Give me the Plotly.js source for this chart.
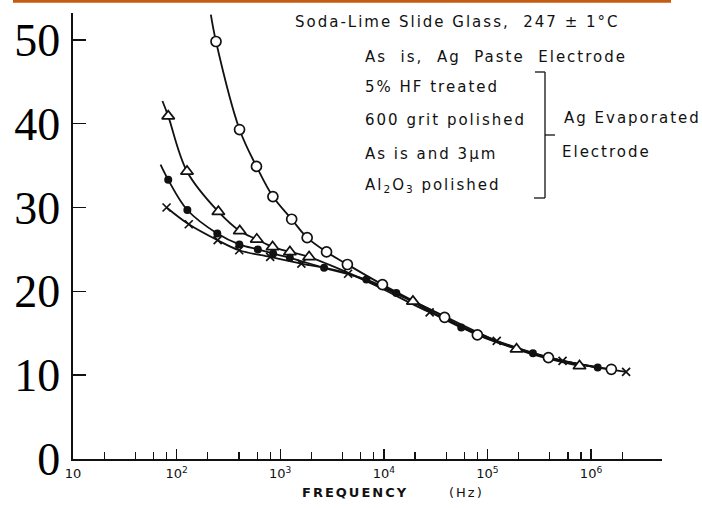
<!DOCTYPE html>
<html><head><meta charset="utf-8">
<script src="https://cdn.plot.ly/plotly-3.0.1.min.js"></script>
<style>
html,body{margin:0;padding:0;background:#fff;}
.annotation-text{letter-spacing:2px;}
</style></head>
<body><div id="chart" style="width:702px;height:508px;"></div>
<script>
// ---- data (frequency in Hz, value) ----
// As is, Ag paste electrode (open circles)
const pasteFreq = [240, 405, 590, 850, 1290, 1820, 2800, 4450, 9700, 38600, 80000, 388000, 1570000];
const pasteVal  = [49.8, 39.3, 34.9, 31.3, 28.6, 26.4, 24.7, 23.2, 20.8, 16.9, 14.8, 12.1, 10.7];
const pasteLineStartFreq = 214, pasteLineStartVal = 53.0;

// 5% HF treated (open triangles)
const hfFreq = [83, 126, 253, 407, 594, 844, 1240, 1900, 19100, 191000, 774000];
const hfVal  = [40.9, 34.3, 29.5, 27.2, 26.2, 25.3, 24.7, 24.1, 18.8, 13.1, 11.1];
const hfLineStartFreq = 73, hfLineStartVal = 42.7;

// 600 grit polished (filled circles)
const gritFreq = [83, 127, 247, 403, 608, 855, 1240, 2650, 6790, 13200, 55900, 275000, 1160000];
const gritVal  = [33.3, 29.7, 26.9, 25.6, 25.0, 24.5, 24.0, 22.8, 21.4, 19.8, 15.7, 12.6, 10.9];
const gritLineStartFreq = 70, gritLineStartVal = 35.1;

// As is and 3 um Al2O3 polished (crosses)
const aloxFreq = [80, 131, 249, 402, 800, 1600, 4520, 27700, 123000, 531000, 2180000];
const aloxVal  = [30.0, 28.0, 26.1, 24.9, 24.1, 23.3, 22.1, 17.5, 14.1, 11.7, 10.4];

// axis ticks
const xTickVals = [10, 100, 1000, 10000, 100000, 1000000];
const xTickText = ['10', '10<sup>2</sup>', '10<sup>3</sup>', '10<sup>4</sup>', '10<sup>5</sup>', '10<sup>6</sup>'];
const xMinorMult = [2, 4, 6, 8];
const yTickVals = [0, 10, 20, 30, 40, 50];
const yTickText = ['0', '10', '20', '30', '40', '50'];

// legend / caption texts
const titleText = 'Soda-Lime Slide Glass,\u00A0 247 \u00B1 1\u00B0C';
const seriesLabels = ['As\u00A0 is,\u00A0 Ag\u00A0 Paste\u00A0 Electrode', '5% HF treated', '600 grit polished',
                      'As is and 3\u03BCm', 'Al<sub>2</sub>O<sub>3</sub> polished'];
const groupLabels = ['Ag Evaporated', 'Electrode'];
const xTitleWords = ['FREQUENCY', '(Hz)'];

// ---- layout helpers (pixel -> paper) ----
const W = 702, H = 508, L = 73, R = 40, T = 13, B = 49;
const pw = W - L - R, ph = H - T - B;
const px = x => (x - L) / pw;
const py = y => (H - B - y) / ph;

const minorVals = [];
for (let d = 10; d <= 1000000; d *= 10) xMinorMult.forEach(m => { if (m * d <= 2000000) minorVals.push(m * d); });

const lineStyle = {color: '#111', width: 1.8, shape: 'spline', smoothing: 1};
const traces = [
  {x: [pasteLineStartFreq, ...pasteFreq], y: [pasteLineStartVal, ...pasteVal], mode: 'lines', line: lineStyle},
  {x: [hfLineStartFreq, ...hfFreq], y: [hfLineStartVal, ...hfVal], mode: 'lines', line: lineStyle},
  {x: [gritLineStartFreq, ...gritFreq], y: [gritLineStartVal, ...gritVal], mode: 'lines', line: lineStyle},
  {x: aloxFreq, y: aloxVal, mode: 'lines', line: lineStyle},
  {x: pasteFreq, y: pasteVal, mode: 'markers', marker: {symbol: 'circle', size: 10, color: '#fff', line: {color: '#111', width: 1.7}}},
  {x: hfFreq, y: hfVal, mode: 'markers', marker: {symbol: 'triangle-up', size: 11, color: '#fff', line: {color: '#111', width: 1.7}}},
  {x: gritFreq, y: gritVal, mode: 'markers', marker: {symbol: 'circle', size: 8, color: '#111', line: {color: '#111', width: 0}}},
  {x: aloxFreq, y: aloxVal, mode: 'markers', marker: {symbol: 'x-thin-open', size: 8, color: '#111', line: {color: '#111', width: 1.7}}}
].map(t => Object.assign(t, {type: 'scatter', showlegend: false, hoverinfo: 'skip', cliponaxis: false}));

const txtFont = {family: 'DejaVu Sans', size: 15, color: '#111'};
const ann = [];
ann.push({text: titleText, x: px(293), y: py(22)});
const rowsY = [57, 87, 120, 154, 185];
seriesLabels.forEach((t, i) => ann.push({text: t, x: px(363), y: py(rowsY[i])}));
ann.push({text: groupLabels[0], x: px(562), y: py(118)});
ann.push({text: groupLabels[1], x: px(560), y: py(152)});
ann.forEach(a => Object.assign(a, {xref: 'paper', yref: 'paper', xanchor: 'left', yanchor: 'middle', showarrow: false, font: txtFont}));
ann.push({text: '<b>' + xTitleWords[0] + '</b>', x: px(300), y: py(492), xref: 'paper', yref: 'paper', xanchor: 'left', yanchor: 'middle', showarrow: false, font: {family: 'DejaVu Sans', size: 13, color: '#111'}});
ann.push({text: xTitleWords[1], x: px(447), y: py(492), xref: 'paper', yref: 'paper', xanchor: 'left', yanchor: 'middle', showarrow: false, font: {family: 'DejaVu Sans', size: 13, color: '#111'}});

const shp = [];
const bl = {color: '#111', width: 1.3};
shp.push({type: 'line', xref: 'paper', yref: 'paper', x0: px(545), x1: px(545), y0: py(72), y1: py(198), line: bl});
shp.push({type: 'line', xref: 'paper', yref: 'paper', x0: px(535), x1: px(545), y0: py(72), y1: py(72), line: bl});
shp.push({type: 'line', xref: 'paper', yref: 'paper', x0: px(534), x1: px(545), y0: py(198), y1: py(198), line: bl});
shp.push({type: 'line', xref: 'paper', yref: 'paper', x0: px(545), x1: px(555), y0: py(135), y1: py(135), line: bl});
shp.push({type: 'line', xref: 'paper', yref: 'paper', x0: px(13), x1: px(671), y0: py(1.2), y1: py(1.2), line: {color: '#C55A11', width: 3}});

const layout = {
  width: W, height: H,
  margin: {l: L, r: R, t: T, b: B, pad: 0},
  paper_bgcolor: '#fff', plot_bgcolor: '#fff',
  xaxis: {type: 'log', range: [1, 6.685], showgrid: false, zeroline: false,
          showline: true, linecolor: '#111', linewidth: 1.6,
          ticks: 'inside', ticklen: 10, tickwidth: 1.4, tickcolor: '#111',
          tickmode: 'array', tickvals: xTickVals, ticktext: xTickText,
          minor: {tickmode: 'array', tickvals: minorVals, ticks: 'inside', ticklen: 7, tickwidth: 1.2, tickcolor: '#111', showgrid: false},
          tickfont: {family: 'DejaVu Sans', size: 13, color: '#111'}, ticklabelstandoff: 2},
  yaxis: {range: [0, 53.2], showgrid: false, zeroline: false,
          showline: true, linecolor: '#111', linewidth: 1.6,
          ticks: 'inside', ticklen: 13, tickwidth: 1.4, tickcolor: '#111',
          tickmode: 'array', tickvals: yTickVals, ticktext: yTickText,
          tickfont: {family: 'Liberation Serif', size: 46, color: '#000'}, ticklabelstandoff: 2},
  annotations: ann,
  shapes: shp
};
Plotly.newPlot('chart', traces, layout, {staticPlot: true, displayModeBar: false});
</script></body></html>
